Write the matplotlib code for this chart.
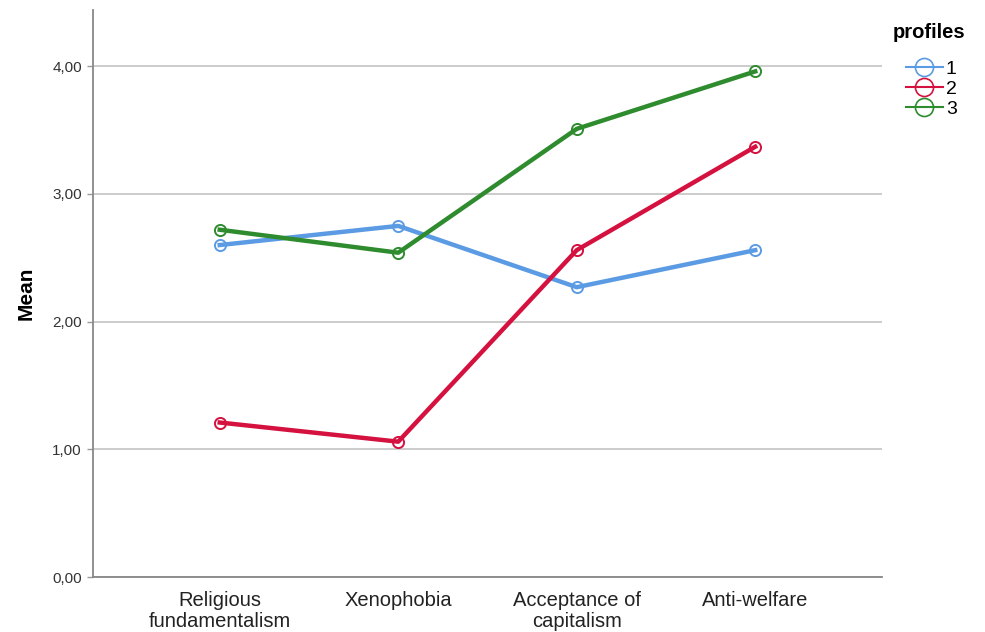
import matplotlib
matplotlib.use("Agg")
import matplotlib.pyplot as plt
from matplotlib.lines import Line2D

categories = ["Religious\nfundamentalism", "Xenophobia", "Acceptance of\ncapitalism", "Anti-welfare"]
profile1 = [2.60, 2.75, 2.27, 2.56]
profile2 = [1.21, 1.06, 2.56, 3.37]
profile3 = [2.72, 2.54, 3.51, 3.96]
series_names = ["1", "2", "3"]
yticks = [0, 1, 2, 3, 4]
ytick_labels = ["0,00", "1,00", "2,00", "3,00", "4,00"]

colors = ["#5B9BE4", "#D4113F", "#2E8B2E"]

plt.rcParams['font.family'] = ['Liberation Sans', 'DejaVu Sans']
fig = plt.figure(figsize=(9.85, 6.32), dpi=100)
ax = fig.add_axes([0.0944, 0.087, 0.801, 0.897])

x = list(range(len(categories)))
for vals, c in zip([profile1, profile2, profile3], colors):
    ax.plot(x, vals, color=c, lw=3.2, marker='o', ms=8, mfc='none', mec=c, mew=1.4, zorder=3)

ax.set_xlim(-0.71, 3.71)
ax.set_ylim(0, 4.44)
ax.set_yticks(yticks)
ax.set_yticklabels(ytick_labels, fontsize=11, color="#333333")
ax.set_xticks(x)
ax.set_xticklabels(categories, fontsize=14.5, color="#222222", linespacing=1.15)
ax.tick_params(axis='x', length=0, pad=10)
ax.tick_params(axis='y', length=4, width=1, color="#999999", pad=4)
ax.grid(axis='y', color="#C8C8C8", lw=1.3)
ax.set_axisbelow(True)
for s in ["top", "right"]:
    ax.spines[s].set_visible(False)
for s in ["left", "bottom"]:
    ax.spines[s].set_color("#888888")
    ax.spines[s].set_linewidth(1.3)
ax.set_ylabel("Mean", fontsize=15, fontweight='bold', labelpad=12)

fig.text(893 / 985, 1 - 33 / 632, "profiles", fontsize=14.5, fontweight='bold', va='center', ha='left')
handles = [Line2D([0], [0], color=c, lw=1.5, marker='o', ms=13, mfc='none', mec=c, mew=1.2) for c in colors]
leg = fig.legend(handles, series_names, loc='upper left',
                 bbox_to_anchor=(906 / 985, 1 - 60 / 632), frameon=False, fontsize=14,
                 handlelength=1.9, handletextpad=0.15, labelspacing=0.12, borderpad=0, borderaxespad=0)

fig.savefig("out.png", dpi=100)
